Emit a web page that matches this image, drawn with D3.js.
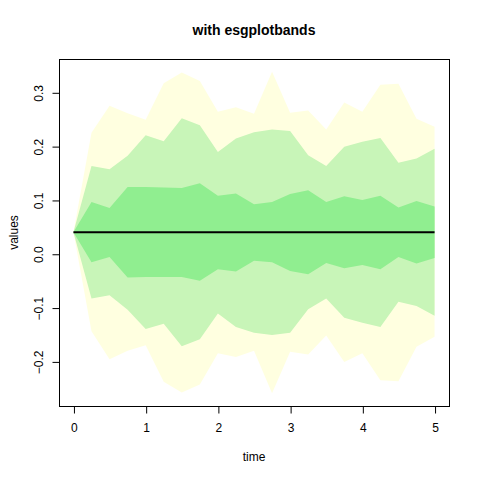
<!DOCTYPE html>
<html>
<head>
<meta charset="utf-8">
<script src="https://cdn.jsdelivr.net/npm/d3@7"></script>
<style>
  html, body { margin: 0; padding: 0; background: #fff; }
  svg text { font-family: "Liberation Sans", Arial, Helvetica, sans-serif; }
</style>
</head>
<body>
<svg id="chart" width="480" height="480"></svg>
<script>
// ---- data ----
const time = [0, 0.25, 0.5, 0.75, 1, 1.25, 1.5, 1.75, 2, 2.25, 2.5, 2.75, 3, 3.25, 3.5, 3.75, 4, 4.25, 4.5, 4.75, 5];
const outerUpper = [0.04, 0.225, 0.275, 0.261, 0.249, 0.317, 0.337, 0.321, 0.264, 0.272, 0.260, 0.338, 0.262, 0.266, 0.231, 0.281, 0.264, 0.314, 0.316, 0.251, 0.236];
const midUpper   = [0.04, 0.163, 0.157, 0.182, 0.220, 0.209, 0.252, 0.239, 0.189, 0.214, 0.226, 0.231, 0.228, 0.183, 0.163, 0.199, 0.208, 0.215, 0.169, 0.177, 0.195];
const innerUpper = [0.04, 0.096, 0.085, 0.124, 0.124, 0.123, 0.122, 0.131, 0.108, 0.112, 0.092, 0.096, 0.111, 0.118, 0.096, 0.107, 0.100, 0.108, 0.086, 0.098, 0.088];
const innerLower = [0.04, -0.016, -0.006, -0.044, -0.043, -0.043, -0.043, -0.050, -0.029, -0.033, -0.013, -0.016, -0.032, -0.038, -0.017, -0.027, -0.021, -0.029, -0.006, -0.018, -0.008];
const midLower   = [0.04, -0.083, -0.077, -0.104, -0.140, -0.130, -0.172, -0.159, -0.111, -0.136, -0.147, -0.151, -0.147, -0.103, -0.083, -0.119, -0.128, -0.136, -0.089, -0.097, -0.115];
const outerLower = [0.04, -0.144, -0.196, -0.180, -0.170, -0.238, -0.258, -0.243, -0.185, -0.192, -0.180, -0.259, -0.182, -0.187, -0.152, -0.201, -0.185, -0.235, -0.237, -0.173, -0.154];
const meanLine   = time.map(() => 0.04);
const xTicks = [0, 1, 2, 3, 4, 5];
const yTicks = [-0.2, -0.1, 0.0, 0.1, 0.2, 0.3];
const titleText = "with esgplotbands";
const xLabel = "time";
const yLabel = "values";

// ---- layout ----
const svg = d3.select("#chart");
const plot = { left: 59, top: 59, right: 449, bottom: 406 };

const xMin = 0, xMax = 5;
const xPad = (xMax - xMin) * 0.04;
const x = d3.scaleLinear().domain([xMin - xPad, xMax + xPad]).range([plot.left, plot.right]);

const allVals = outerUpper.concat(outerLower);
const yLo = d3.min(allVals), yHi = d3.max(allVals);
const yPad = (yHi - yLo) * 0.04;
const y = d3.scaleLinear().domain([yLo - yPad, yHi + yPad]).range([plot.bottom, plot.top]);

function band(upper, lower, color) {
  const data = time.map((t, i) => ({ t, hi: upper[i], lo: lower[i] }));
  const area = d3.area()
    .x(d => x(d.t))
    .y0(d => y(d.lo))
    .y1(d => y(d.hi));
  svg.append("path").datum(data).attr("d", area).attr("fill", color).attr("stroke", "none");
}

band(outerUpper, outerLower, "#FFFFE0");
band(midUpper, midLower, "#C8F5B8");
band(innerUpper, innerLower, "#90EE90");

// mean line
svg.append("path")
  .datum(time.map((t, i) => ({ t, v: meanLine[i] })))
  .attr("d", d3.line().x(d => x(d.t)).y(d => y(d.v)))
  .attr("fill", "none").attr("stroke", "#000").attr("stroke-width", 2);

// box
svg.append("rect")
  .attr("x", plot.left + 0.5).attr("y", plot.top + 0.5)
  .attr("width", plot.right - plot.left).attr("height", plot.bottom - plot.top)
  .attr("fill", "none").attr("stroke", "#000").attr("stroke-width", 1);

// x axis
const xAxis = d3.axisBottom(x).tickValues(xTicks).tickSize(7).tickPadding(10).tickFormat(d3.format("d"));
const gx = svg.append("g").attr("transform", `translate(0.5,${plot.bottom + 0.5})`).call(xAxis);
gx.select(".domain").attr("d", `M${x(xTicks[0])},0H${x(xTicks[xTicks.length - 1])}`);
gx.selectAll("text").attr("font-size", 12).attr("fill", "#000")
  .style("font-family", "'Liberation Sans', Arial, sans-serif");

// y axis
const yAxis = d3.axisLeft(y).tickValues(yTicks).tickSize(7).tickFormat(d3.format(".1f"));
const gy = svg.append("g").attr("transform", `translate(${plot.left + 0.5},0.5)`).call(yAxis);
gy.select(".domain").attr("d", `M0,${y(yTicks[0])}V${y(yTicks[yTicks.length - 1])}`);
gy.selectAll(".tick text")
  .attr("x", 0).attr("y", 0).attr("dy", null)
  .attr("text-anchor", "middle")
  .attr("transform", "translate(-17,0) rotate(-90)")
  .attr("font-size", 12).attr("fill", "#000")
  .style("font-family", "'Liberation Sans', Arial, sans-serif");

// titles
svg.append("text").attr("x", (plot.left + plot.right) / 2).attr("y", 35)
  .attr("text-anchor", "middle").attr("font-size", 14).attr("font-weight", "bold")
  .text(titleText);
svg.append("text").attr("x", (plot.left + plot.right) / 2).attr("y", 461)
  .attr("text-anchor", "middle").attr("font-size", 12).text(xLabel);
svg.append("text")
  .attr("transform", `translate(18,${(plot.top + plot.bottom) / 2}) rotate(-90)`)
  .attr("text-anchor", "middle").attr("font-size", 12).text(yLabel);
</script>
</body>
</html>
